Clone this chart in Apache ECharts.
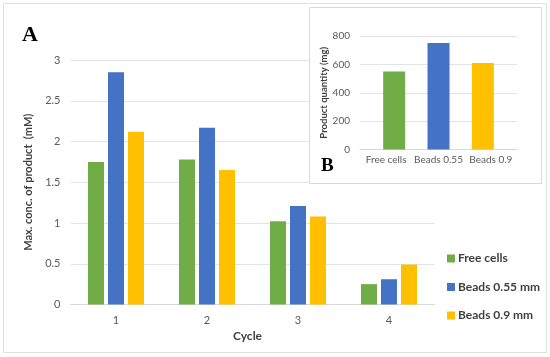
<!DOCTYPE html>
<html>
<head>
<meta charset="utf-8">
<script src="https://cdn.jsdelivr.net/npm/echarts@6/dist/echarts.min.js"></script>
<style>html,body{margin:0;padding:0;background:#fff}#c{width:550px;height:357px}</style>
</head>
<body>
<div id="c"></div>
<script>
// Main chart (A)
var cycles = ['1', '2', '3', '4'];
var freeCells = [1.75, 1.78, 1.02, 0.25];
var beads055 = [2.85, 2.17, 1.21, 0.31];
var beads09 = [2.12, 1.65, 1.08, 0.49];
var seriesNames = ['Free cells', 'Beads 0.55 mm', 'Beads 0.9 mm'];
// Inset chart (B)
var insetCategories = ['Free cells', 'Beads 0.55', 'Beads 0.9'];
var insetValues = [550, 750, 610];

var FONT = 'Lato';
var colors = ['#70AD47', '#4472C4', '#FFC000'];
var chart = echarts.init(document.getElementById('c'), null, {renderer: 'canvas'});

var labelStyle = {color: '#595959', fontFamily: FONT};
var option = {
  animation: false,
  backgroundColor: '#fff',
  grid: [
    {left: 70.5, right: 115.5, top: 60, bottom: 52.5},
    {left: 360, right: 33, top: 36, bottom: 207.5},
    {left: 372, right: 45, top: 36, bottom: 207.5}
  ],
  legend: {
    data: seriesNames,
    orient: 'vertical',
    left: 442, top: 246.5,
    itemWidth: 8, itemHeight: 8, itemGap: 14.5,
    icon: 'rect',
    textStyle: {color: '#404040', fontFamily: FONT, fontWeight: 'bold', fontSize: 12, lineHeight: 14, padding: [0, 0, 0, -2]}
  },
  xAxis: [
    {type: 'category', gridIndex: 0, data: cycles,
     name: 'Cycle', nameLocation: 'middle', nameGap: 26,
     nameTextStyle: {color: '#404040', fontFamily: FONT, fontWeight: 'bold', fontSize: 12, padding: [0, 10, 0, 0]},
     axisLine: {lineStyle: {color: '#d9d9d9'}}, axisTick: {show: false},
     axisLabel: Object.assign({fontSize: 11, margin: 10}, labelStyle), z: 0},
    {type: 'category', gridIndex: 1, data: insetCategories,
     axisLine: {lineStyle: {color: '#d9d9d9'}}, axisTick: {show: false},
     axisLabel: Object.assign({fontSize: 10, margin: 5, interval: 0}, labelStyle), z: 10},
    {type: 'category', gridIndex: 2, data: insetCategories, show: false}
  ],
  yAxis: [
    {type: 'value', gridIndex: 0, min: 0, max: 3, interval: 0.5,
     name: 'Max. conc. of product  (mM)', nameLocation: 'middle', nameGap: 34.5,
     nameTextStyle: {color: '#404040', fontFamily: FONT, fontWeight: 'bold', fontSize: 11},
     axisLine: {show: false}, axisTick: {show: false},
     axisLabel: Object.assign({fontSize: 11, margin: 10}, labelStyle),
     splitLine: {lineStyle: {color: '#e3e3e3'}}, z: 0},
    {type: 'value', gridIndex: 1, min: 0, max: 800, interval: 200,
     name: 'Product quantity (mg)', nameLocation: 'middle', nameGap: 31,
     nameTextStyle: {color: '#404040', fontFamily: FONT, fontWeight: 'bold', fontSize: 9.5},
     axisLine: {show: false}, axisTick: {show: false},
     axisLabel: Object.assign({fontSize: 10, margin: 10}, labelStyle),
     splitLine: {lineStyle: {color: '#e3e3e3'}}, z: 10},
    {type: 'value', gridIndex: 2, min: 0, max: 800, interval: 200, show: false}
  ],
  series: [
    {name: seriesNames[0], type: 'bar', xAxisIndex: 0, yAxisIndex: 0, data: freeCells,
     itemStyle: {color: colors[0]}, barWidth: 16, barGap: '25%', z: 2},
    {name: seriesNames[1], type: 'bar', xAxisIndex: 0, yAxisIndex: 0, data: beads055,
     itemStyle: {color: colors[1]}, barWidth: 16, barGap: '25%', z: 2},
    {name: seriesNames[2], type: 'bar', xAxisIndex: 0, yAxisIndex: 0, data: beads09,
     itemStyle: {color: colors[2]}, barWidth: 16, barGap: '25%', z: 2},
    {name: 'inset', type: 'bar', xAxisIndex: 2, yAxisIndex: 2, barWidth: 22, z: 11,
     data: insetValues.map(function (v, i) { return {value: v, itemStyle: {color: colors[i]}}; })}
  ],
  graphic: [
    {type: 'rect', shape: {x: 3.5, y: 3.5, width: 543, height: 349},
     style: {fill: null, stroke: '#e0e0e0', lineWidth: 1}, z: 1, silent: true},
    {type: 'rect', shape: {x: 309.5, y: 7.5, width: 232, height: 176},
     style: {fill: '#fff', stroke: '#d9d9d9', lineWidth: 1}, z: 5, silent: true},
    {type: 'text', left: 22, top: 24, z: 12,
     style: {text: 'A', font: 'bold 22px "Liberation Serif", "DejaVu Serif", serif', fill: '#000'}},
    {type: 'text', left: 321, top: 157, z: 12,
     style: {text: 'B', font: 'bold 19px "Liberation Serif", "DejaVu Serif", serif', fill: '#000'}}
  ]
};
chart.setOption(option);
</script>
</body>
</html>
